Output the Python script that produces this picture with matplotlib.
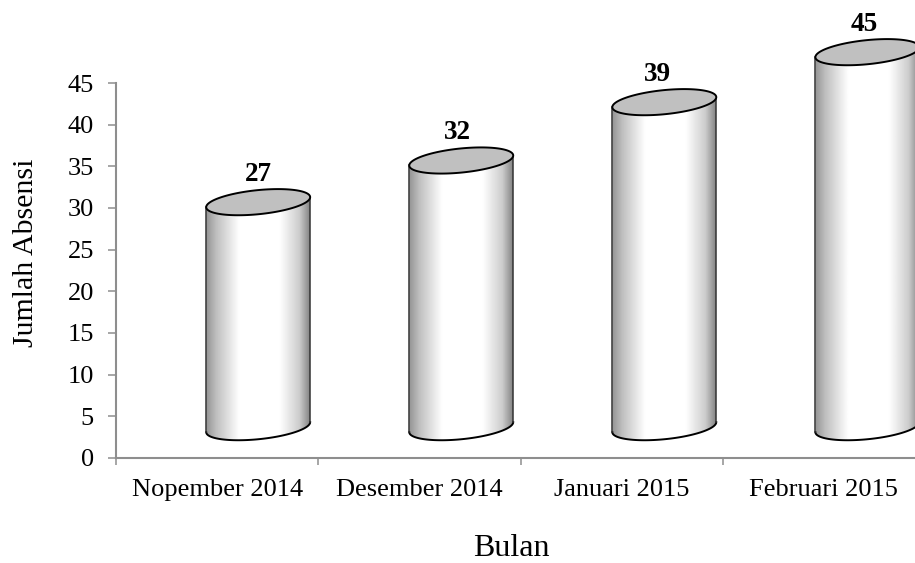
import matplotlib
matplotlib.use('Agg')
import matplotlib.pyplot as plt
import numpy as np
from matplotlib.patches import PathPatch
from matplotlib.path import Path

plt.rcParams['font.family'] = ['Liberation Serif', 'DejaVu Serif']

bulan = ['Nopember 2014', 'Desember 2014', 'Januari 2015', 'Februari 2015']
absensi = [27, 32, 39, 45]
yticks = [0, 5, 10, 15, 20, 25, 30, 35, 40, 45]

W, H = 915, 563
fig = plt.figure(figsize=(W / 100, H / 100), dpi=100)
left, right, bottom, top = 116, 925, 458, 83
ax = fig.add_axes([left / W, 1 - bottom / H, (right - left) / W, (bottom - top) / H])

# perspective of the 3D chart: columns sit right of and above the category
x_shift = 0.203
x_step = 1.004
y_base = 3.7
half_w = 0.257
ell_b = 1.45
ell_k = 0.6
label_dx = [0.0, -0.02, -0.035, -0.015]
label_dy = 3.35


def ellipse(cx, cy, t):
    return cx + half_w * np.cos(t), cy + ell_b * np.sin(t) + ell_k * np.cos(t)


# horizontal shading, dark at the edges and white in the middle
pos = np.array([0, 0.1, 0.32, 0.71, 0.9, 1])
val = np.array([0.58, 0.75, 1, 1, 0.8, 0.52])
grad = np.interp(np.linspace(0, 1, 256), pos, val).reshape(1, -1)

for i, v in enumerate(absensi):
    cx = i * x_step + x_shift
    y_top = y_base + v
    t_low = np.linspace(np.pi, 2 * np.pi, 80)

    # body: lower arc of the base, then back along the lower arc of the top
    bx, by = ellipse(cx, y_base, t_low)
    tx, ty = ellipse(cx, y_top, t_low[::-1])
    body = Path(np.column_stack([np.concatenate([bx, tx]), np.concatenate([by, ty])]))
    im = ax.imshow(grad, cmap='gray', vmin=0, vmax=1, aspect='auto', interpolation='bilinear',
                   extent=[cx - half_w, cx + half_w, y_base - 3, y_top + 3], zorder=2)
    im.set_clip_path(PathPatch(body, transform=ax.transData))
    im.set_clip_box(fig.bbox)

    # outline on both sides and under the base
    ax.plot(bx, by, color='black', lw=1.4, zorder=3, clip_on=False)
    ax.plot([bx[0], tx[-1]], [by[0], ty[-1]], color='#333333', lw=1.1, zorder=3, clip_on=False)
    ax.plot([bx[-1], tx[0]], [by[-1], ty[0]], color='#333333', lw=1.1, zorder=3, clip_on=False)

    # top face
    ex, ey = ellipse(cx, y_top, np.linspace(0, 2 * np.pi, 160))
    ax.fill(ex, ey, facecolor='#C0C0C0', edgecolor='black', lw=1.4, zorder=4, clip_on=False)

    ax.text(cx + label_dx[i], y_top + label_dy, str(v), ha='center', va='center',
            fontsize=19.5, fontweight='bold', color='black', zorder=5, clip_on=False)

ax.set_xlim(-0.5, 3.5)
ax.set_ylim(0, 45)

for s in ['top', 'right']:
    ax.spines[s].set_visible(False)
for s in ['left', 'bottom']:
    ax.spines[s].set_color('#8E8E8E')
    ax.spines[s].set_linewidth(1.5)

ax.set_yticks(yticks)
ax.tick_params(axis='y', length=6, width=1.1, color='#8E8E8E', labelsize=19, pad=10)
ax.set_xticks(np.arange(-0.5, 4, 1))
ax.set_xticklabels([])
ax.set_xticks(range(len(bulan)), labels=bulan, minor=True)
ax.tick_params(axis='x', which='major', length=5, width=1.1, color='#8E8E8E')
ax.tick_params(axis='x', which='minor', length=0, labelsize=19, pad=15)

fig.text(511 / W, 1 - 549 / H, 'Bulan', ha='center', va='center', fontsize=23)
fig.text(26 / W, 1 - 253 / H, 'Jumlah Absensi', ha='center', va='center', rotation=90, fontsize=21.5)

fig.savefig('out.png', dpi=100)
